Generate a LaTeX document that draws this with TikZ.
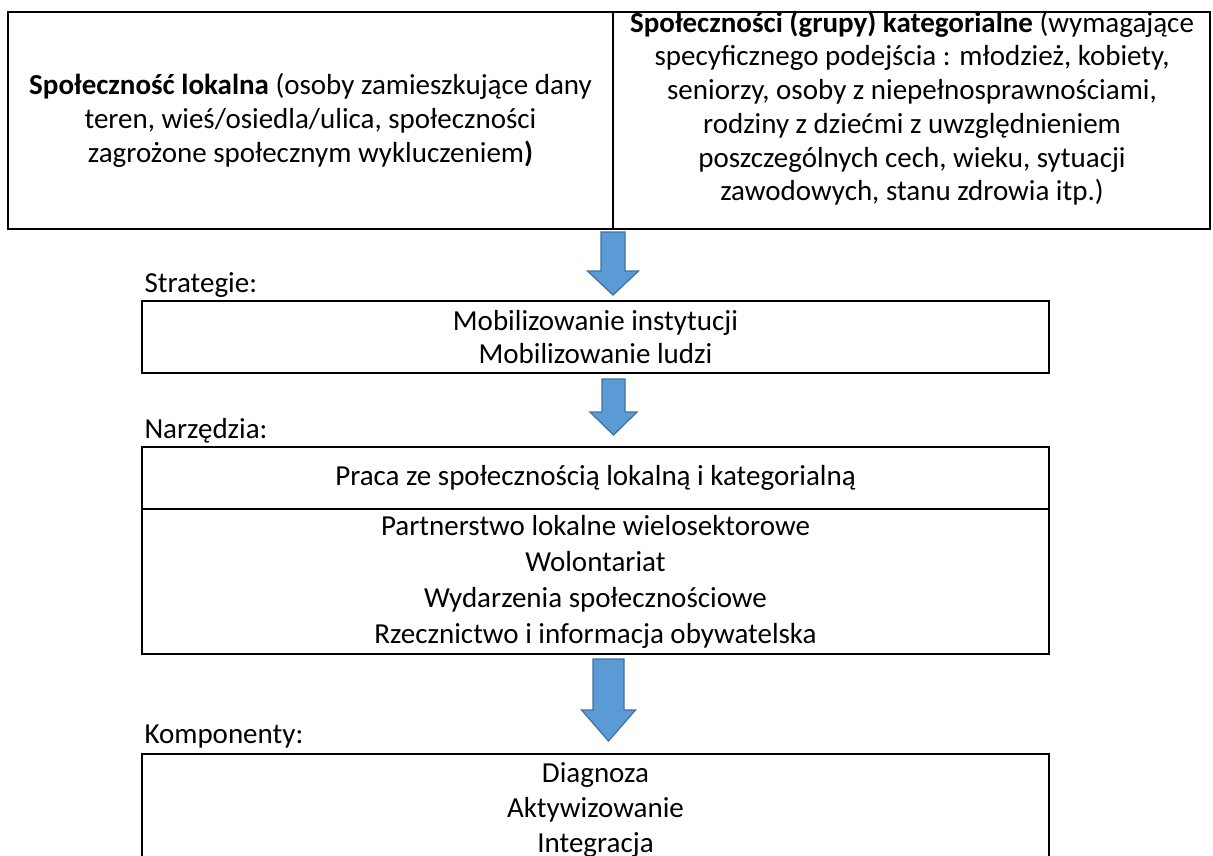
\documentclass[tikz,border=0pt]{standalone}
\usepackage{fontspec}
\setmainfont{Carlito}
\usepackage{xcolor}
\usetikzlibrary{positioning}
\definecolor{arrowfill}{HTML}{5B9BD5}
\definecolor{arrowedge}{HTML}{41719C}
\newcommand{\px}{0.4pt}
\tikzstyle{block} = [rectangle, draw, line width=0.8pt, inner sep=0pt, align=center]
\tikzstyle{caption} = [inner sep=0pt]
\tikzstyle{bigarrow} = [draw=arrowedge, fill=arrowfill, line width=0.5pt, line join=miter]
\tikzset{
    every node/.style={font=\fontsize{11.6}{13.7}\selectfont}
}
% block arrow pointing down: top point, half shaft, head overhang, shaft length, head length
\newcommand{\bigdown}[5]{%
    \draw[bigarrow] (#1) ++(-#2,0) -- ++(0,#4) -- ++(-#3,0) -- ++(#2+#3,#5)
        -- ++(#2+#3,-#5) -- ++(-#3,0) -- ++(0,-#4) -- cycle;}

\begin{document}
\begin{tikzpicture}[x=0.4pt,y=-0.4pt]
    \clip (0,0) rectangle (1213,855);

    % Place nodes
    \node [block, minimum width=605*\px, minimum height=217*\px] (local) at (310.5,120.5)
        {\textbf{Społeczność lokalna} (osoby zamieszkujące dany\\
         teren, wieś/osiedla/ulica, społeczności\\
         zagrożone społecznym wykluczeniem\textbf{)}};
    \node [block, minimum width=597*\px, minimum height=217*\px] (group) at (911.5,120.5) {};
    \node [caption, align=center, font=\fontsize{11.6}{13.5}\selectfont] (grouptext) at (912,108)
        {\textbf{Społeczności (grupy) kategorialne} (wymagające\\
         specyficznego podejścia : młodzież, kobiety,\\
         seniorzy, osoby z niepełnosprawnościami,\\
         rodziny z dziećmi z uwzględnieniem\\
         poszczególnych cech, wieku, sytuacji\\
         zawodowych, stanu zdrowia itp.)};

    \node [block, minimum width=907*\px, minimum height=72*\px, font=\fontsize{11.6}{13.2}\selectfont] (strat) at (595.5,337)
        {Mobilizowanie instytucji\\Mobilizowanie ludzi};
    \node [caption, above right=3.2pt and 1.2pt of strat.north west, anchor=base west] (stratlbl) {Strategie:};

    \node [block, minimum width=907*\px, minimum height=62*\px] (work) at (595.5,478)
        {Praca ze społecznością lokalną i kategorialną};
    \node [block, minimum width=907*\px, minimum height=145*\px, font=\fontsize{11.6}{14.4}\selectfont] (tools) at (595.5,581.5)
        {Partnerstwo lokalne wielosektorowe\\Wolontariat\\Wydarzenia społecznościowe\\Rzecznictwo i informacja obywatelska};
    \node [caption, above right=3pt and 1.2pt of work.north west, anchor=base west] (toolslbl) {Narzędzia:};

    \node [block, minimum width=907*\px, minimum height=112*\px, font=\fontsize{11.6}{14}\selectfont] (comp) at (595.5,810)
        {Diagnoza\\Aktywizowanie\\Integracja};
    \node [caption, above right=4pt and 1.2pt of comp.north west, anchor=base west] (complbl) {Komponenty:};

    % Connect nodes
    \coordinate (arr1) at (613,232);
    \coordinate (arr2) at (613.5,379);
    \coordinate (arr3) at (608.5,659);
    \bigdown{arr1}{12}{13.5}{39}{24}
    \bigdown{arr2}{11.5}{12}{33}{23}
    \bigdown{arr3}{15.5}{11.5}{51}{31}
\end{tikzpicture}
\end{document}
